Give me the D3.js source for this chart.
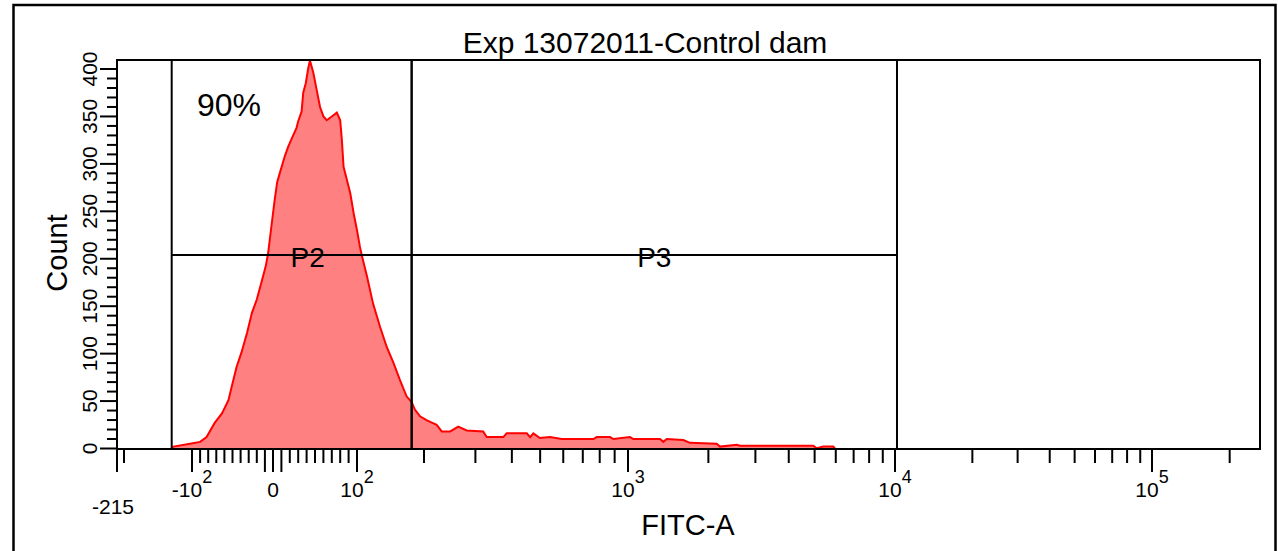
<!DOCTYPE html>
<html>
<head>
<meta charset="utf-8">
<script src="https://cdn.jsdelivr.net/npm/d3@7"></script>
<style>
  body { margin: 0; background: #fff; }
  svg { display: block; }
  text { font-family: "Liberation Sans", Arial, sans-serif; fill: #000; }
</style>
</head>
<body>
<script>
// Histogram outline: FITC-A value and event count
var fitc = [-123, -121, -102, -90, -82, -72, -63, -55, -51, -45, -39, -32, -26, -20, -14, -9, -6, -2,
    2, 5, 8, 14, 18, 24, 28, 30, 34, 36, 39, 42, 44, 48, 52, 56, 60, 64, 70, 76, 80, 82, 84, 88, 92, 96, 100,
    103, 105, 111, 118, 127, 136, 146, 156, 167, 176, 182, 192, 204, 210, 221, 230, 246, 262, 280, 319, 328,
    374, 384, 450, 462, 474, 499, 540, 593, 761, 781, 868, 891, 1017, 1047, 1318, 1356, 1396, 1611, 1707,
    2149, 2211, 2554, 2627, 4943, 5090, 5389, 5873, 5961];
var counts = [1, 2, 5, 7, 12, 27, 37, 51, 65, 86, 101, 122, 143, 157, 176, 192, 206, 234,
    262, 281, 290, 308, 318, 330, 338, 345, 355, 375, 385, 401, 409, 396, 378, 360, 350, 346, 350, 354, 346, 325, 297, 283, 269, 248, 230,
    213, 204, 181, 153, 128, 107, 90, 72, 55, 49, 41, 34, 30, 28, 25, 18, 18, 23, 19, 18, 12,
    12, 16, 16, 12, 16, 11, 12, 10, 10, 12, 12, 10, 12, 10, 10, 7, 10, 9, 6,
    5, 2, 4, 3, 3, 0.2, 2, 2, 0];

// Gates: name, left/right FITC value, label height (count)
var gateNames = ["P2", "P3"];
var gateLo = [-123, 176];
var gateHi = [176, 10180];
var gateLevel = 204;

var title = "Exp 13072011-Control dam";
var percentText = "90%";

// axis ticks
var yMajor = d3.range(0, 401, 50);
var yMinor = d3.range(0, 401, 10);
var xMajor = [-215, -100, -10, 0, 10, 100, 1000, 10000, 100000];
var xMinor = [-200, -90, -80, -70, -60, -50, -40, -30, -20, 20, 30, 40, 50, 60, 70, 80, 90,
    200, 300, 400, 500, 600, 700, 800, 900, 2000, 3000, 4000, 5000, 6000, 7000, 8000, 9000,
    20000, 30000, 40000, 50000, 60000, 70000, 80000, 90000, 200000];
var xLabelVals = [-100, 0, 100, 1000, 10000, 100000];
var xLabelBase = ["-10", "0", "10", "10", "10", "10"];
var xLabelSup = ["2", "", "2", "3", "4", "5"];

var w = 1278, h = 551;
var pL = 117, pR = 1260, pT = 60, pB = 449;

// biexponential-like display: linear inside +-100, log outside
function biex(v) {
    var a = Math.abs(v);
    return a <= 100 ? v / 100 : Math.sign(v) * (1 + Math.log10(a / 100));
}
var xCal = [-215, -200, -100, 0, 100, 200, 1000, 10000, 100000, 262144];
var xCalPx = [117, 124, 192, 273, 357, 424, 628, 895, 1152, 1260];
var xScale = d3.scaleLinear()
    .domain(xCal.map(biex))
    .range(xCalPx);
var X = function(v) { return xScale(biex(v)); };

var yScale = d3.scaleLinear()
    .domain([0, 409.5])
    .range([448.5, pT]);

var svg = d3.select("body").append("svg")
    .attr("width", w)
    .attr("height", h);

// outer border
svg.append("path")
    .attr("d", "M13.5," + h + "V5H1275.5V" + h)
    .attr("fill", "none")
    .attr("stroke", "#000")
    .attr("stroke-width", 2.5);

// histogram
var hist = d3.zip(fitc, counts);
var area = d3.area()
    .x(d => X(d[0]))
    .y0(yScale(0))
    .y1(d => yScale(d[1]));
var line = d3.line()
    .x(d => X(d[0]))
    .y(d => yScale(d[1]));

svg.append("path")
    .datum(hist)
    .attr("d", area)
    .attr("fill", "rgb(255,128,128)");
svg.append("path")
    .datum(hist)
    .attr("d", line)
    .attr("fill", "none")
    .attr("stroke", "#ff0000")
    .attr("stroke-width", 2);

// gates
var gates = gateNames.map((n, i) => ({name: n, lo: gateLo[i], hi: gateHi[i]}));
var gateG = svg.selectAll(".gate")
    .data(gates)
    .enter()
    .append("g")
    .attr("class", "gate");
gateG.append("line")
    .attr("x1", d => X(d.lo)).attr("x2", d => X(d.hi))
    .attr("y1", yScale(gateLevel)).attr("y2", yScale(gateLevel))
    .attr("stroke", "#000").attr("stroke-width", 2);
gateG.append("line")
    .attr("x1", d => X(d.lo)).attr("x2", d => X(d.lo))
    .attr("y1", pT).attr("y2", pB)
    .attr("stroke", "#000").attr("stroke-width", 2);
gateG.append("line")
    .attr("x1", d => X(d.hi)).attr("x2", d => X(d.hi))
    .attr("y1", pT).attr("y2", pB)
    .attr("stroke", "#000").attr("stroke-width", 2);
gateG.append("text")
    .attr("x", d => (X(d.lo) + X(d.hi)) / 2 + (d.name == "P2" ? 16 : 0))
    .attr("y", yScale(gateLevel) + 12)
    .attr("text-anchor", "middle")
    .attr("font-size", "28px")
    .text(d => d.name);

// plot frame
svg.append("rect")
    .attr("x", pL).attr("y", pT)
    .attr("width", pR - pL).attr("height", pB - pT)
    .attr("fill", "none")
    .attr("stroke", "#000")
    .attr("stroke-width", 2);

// y axis ticks
svg.append("g").selectAll("line")
    .data(yMinor)
    .enter().append("line")
    .attr("x1", pL)
    .attr("x2", d => yMajor.indexOf(d) >= 0 ? pL - 17 : pL - 10)
    .attr("y1", d => yScale(d)).attr("y2", d => yScale(d))
    .attr("stroke", "#000").attr("stroke-width", 2);
svg.append("g").selectAll("text")
    .data(yMajor)
    .enter().append("text")
    .attr("transform", d => "translate(97," + yScale(d) + ") rotate(-90)")
    .attr("text-anchor", "middle")
    .attr("font-size", "21px")
    .text(d => d);

// x axis ticks
svg.append("g").selectAll("line")
    .data(xMajor.concat(xMinor))
    .enter().append("line")
    .attr("x1", d => X(d)).attr("x2", d => X(d))
    .attr("y1", pB)
    .attr("y2", d => xMajor.indexOf(d) >= 0 ? pB + 23 : pB + 14)
    .attr("stroke", "#000").attr("stroke-width", 2);

var xl = svg.append("g").selectAll("text")
    .data(xLabelVals)
    .enter().append("text")
    .attr("x", d => X(d))
    .attr("y", 497)
    .attr("text-anchor", "middle")
    .attr("font-size", "21px");
xl.append("tspan")
    .text((d, i) => xLabelBase[i]);
xl.append("tspan")
    .attr("dy", -14)
    .attr("font-size", "18px")
    .text((d, i) => xLabelSup[i]);

svg.append("text")
    .attr("x", X(-215) - 4)
    .attr("y", 514)
    .attr("text-anchor", "middle")
    .attr("font-size", "21px")
    .text("-215");

// titles
svg.append("text")
    .attr("x", 645).attr("y", 53)
    .attr("text-anchor", "middle")
    .attr("font-size", "30px")
    .text(title);
svg.append("text")
    .attr("x", 688).attr("y", 535)
    .attr("text-anchor", "middle")
    .attr("font-size", "29px")
    .text("FITC-A");
svg.append("text")
    .attr("transform", "translate(67,253) rotate(-90)")
    .attr("text-anchor", "middle")
    .attr("font-size", "29px")
    .text("Count");

svg.append("text")
    .attr("x", 197).attr("y", 116)
    .attr("font-family", "'Open Sans', 'Noto Sans', sans-serif")
    .attr("font-size", "32px")
    .text(percentText);
</script>
</body>
</html>
